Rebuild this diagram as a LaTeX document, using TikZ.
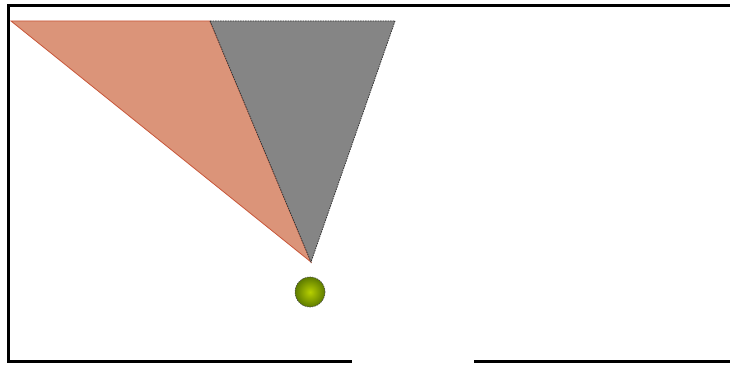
\documentclass[tikz,border=0pt]{standalone}
\usepackage{xcolor}
\usetikzlibrary{positioning}
\definecolor{ConeRed}{HTML}{DB9479}
\definecolor{ConeEdge}{HTML}{C8573A}
\definecolor{ConeGray}{HTML}{858585}
\definecolor{BallGreen}{HTML}{86B000}

\begin{document}
\begin{tikzpicture}[
  x=1pt,y=1pt,
  wall/.style={line width=3pt,color=black},
  redcone/.style={fill=ConeRed,draw=ConeEdge,line width=0.8pt},
  graycone/.style={fill=ConeGray,draw=black!80,line width=0.8pt,dash pattern=on 1.5pt off 1pt},
  ball/.style={circle,minimum size=30pt,inner sep=0pt,inner color=BallGreen!60!yellow,
    outer color=BallGreen!70!black,draw=black!70,line width=0.6pt,dash pattern=on 1.5pt off 1pt}
]
  \useasboundingbox (0,0) rectangle (730,364);
  \fill[white] (0,0) rectangle (730,364);
  % walls
  \coordinate (tl) at (8.5,358.5);
  \coordinate (tr) at (730,358.5);
  \coordinate (bl) at (8.5,3);
  \coordinate (gapl) at (352,3);
  \coordinate (gapr) at (474,3);
  \coordinate (br) at (730,3);
  \draw[wall] (tr) -- (tl) -- (bl) -- (gapl);
  \draw[wall] (gapr) -- (br);
  % view cones
  \coordinate (apex) at (311,102);
  \coordinate (far) at (11,343);
  \coordinate (mid) at (210,343);
  \coordinate (near) at (395,343);
  \draw[redcone] (far) -- (mid) -- (apex) -- cycle;
  \draw[graycone] (mid) -- (near) -- (apex) -- cycle;
  % robot
  \node[ball] (bot) at (310,72) {};
\end{tikzpicture}
\end{document}
